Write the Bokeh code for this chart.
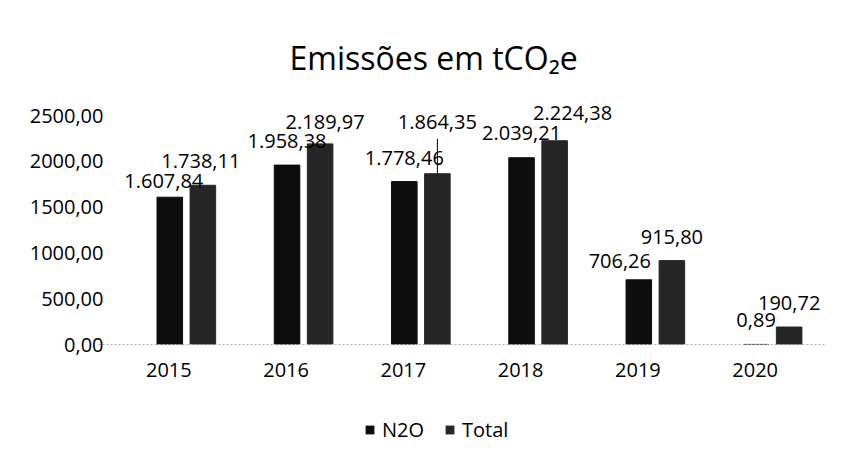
from bokeh.plotting import figure
from bokeh.layouts import column
from bokeh.models import (ColumnDataSource, FactorRange, LabelSet, Legend, LegendItem,
                          Range1d, FixedTicker, Title)
from bokeh.core.properties import value
from bokeh.transform import dodge
from bokeh.embed import file_html
from bokeh.resources import INLINE

# ---- data ----
years = ["2015", "2016", "2017", "2018", "2019", "2020"]
n2o = [1607.84, 1958.38, 1778.46, 2039.21, 706.26, 0.89]
total = [1738.11, 2189.97, 1864.35, 2224.38, 915.80, 190.72]
y_ticks = [0, 500, 1000, 1500, 2000, 2500]

# ---- styling (label nudges, px; up positive) ----
n2o_dx = [-6, 0, 0, 0, -19, 0]
n2o_up = [9, 17, 17, 18, 12, 17]
tot_dx = [-2, 5, 0, 18, 0, 0]
tot_up = [17, 15, 45, 21, 17, 17]

FONT = "Open Sans"
N2O_COLOR = "#0d0d0d"
TOT_COLOR = "#262626"


def br(v):
    s = f"{v:,.2f}"
    return s.replace(",", "X").replace(".", ",").replace("X", ".")


src = ColumnDataSource(dict(
    year=years, n2o=n2o, total=total,
    n2o_lab=[br(v) for v in n2o], tot_lab=[br(v) for v in total],
    n2o_dx=n2o_dx, n2o_up=n2o_up, tot_dx=tot_dx, tot_up=tot_up,
))

W, H1, H2 = 848, 408, 54
LEFT, RIGHT = 98, 23
TOP, BOT = 95, 64
PX_AXIS = 229            # pixel height from 0 to the top tick
frame_h = H1 - TOP - BOT
y_top = y_ticks[-1] * frame_h / PX_AXIS
per_px = y_ticks[-1] / PX_AXIS

p = figure(x_range=FactorRange(*years, range_padding=0.1, range_padding_units="absolute"),
           y_range=Range1d(0, y_top),
           width=W, height=H1, output_backend="svg", toolbar_location=None,
           min_border_left=LEFT, min_border_right=RIGHT, min_border_top=TOP,
           min_border_bottom=BOT)
p.outline_line_color = None
p.grid.visible = False
p.background_fill_color = "white"
p.border_fill_color = "white"

OFF_N = 0.008
OFF_T = 0.29
BW = 0.218

r1 = p.vbar(x=dodge("year", OFF_N, range=p.x_range), top="n2o", width=BW,
            source=src, fill_color=N2O_COLOR, line_color=N2O_COLOR)
r2 = p.vbar(x=dodge("year", OFF_T, range=p.x_range), top="total", width=BW,
            source=src, fill_color=TOT_COLOR, line_color=TOT_COLOR)

lab_kw = dict(text_font=value(FONT), text_font_size="20px", text_color="black",
              text_align="center", text_baseline="alphabetic", source=src)
p.add_layout(LabelSet(x=dodge("year", OFF_N, range=p.x_range), y="n2o", text="n2o_lab",
                      x_offset="n2o_dx", y_offset="n2o_up", **lab_kw))
p.add_layout(LabelSet(x=dodge("year", OFF_T, range=p.x_range), y="total", text="tot_lab",
                      x_offset="tot_dx", y_offset="tot_up", **lab_kw))

# leader line for labels pushed far from their bar
lead = [i for i, u in enumerate(tot_up) if u > 30]
lsrc = ColumnDataSource(dict(
    year=[years[i] for i in lead],
    y0=[total[i] for i in lead],
    y1=[total[i] + (tot_up[i] - 10) * per_px for i in lead],
))
p.segment(x0=dodge("year", OFF_T, range=p.x_range), y0="y0",
          x1=dodge("year", OFF_T, range=p.x_range), y1="y1",
          source=lsrc, line_color="black", line_width=1)

# axes
p.yaxis.ticker = FixedTicker(ticks=y_ticks)
p.yaxis.major_label_overrides = {t: f"{t:.2f}".replace(".", ",") for t in y_ticks}
p.yaxis.axis_line_color = None
p.yaxis.major_tick_line_color = None
p.yaxis.minor_tick_line_color = None
p.yaxis.major_tick_out = 0
p.yaxis.major_label_standoff = -5
p.yaxis.major_label_text_font = FONT
p.yaxis.major_label_text_font_size = "20px"
p.yaxis.major_label_text_color = "black"

p.xaxis.axis_line_color = "#b0b0b0"
p.xaxis.axis_line_dash = "2 2"
p.xaxis.major_tick_line_color = None
p.xaxis.major_tick_out = 0
p.xaxis.major_label_standoff = 18
p.xaxis.major_label_text_font = FONT
p.xaxis.major_label_text_font_size = "20px"
p.xaxis.major_label_text_color = "black"

# title
p.title = Title(text="Emissões em tCO₂e", align="left", offset=191, standoff=34,
                text_font=FONT, text_font_size="32px", text_font_style="normal",
                text_color="black")

# legend strip below the chart (its renderers are hidden; only the legend shows)
p2 = figure(width=W, height=H2, x_range=FactorRange(*years), y_range=Range1d(-2, -1),
            output_backend="svg", toolbar_location=None,
            x_axis_location=None, y_axis_location=None,
            min_border_left=LEFT, min_border_right=RIGHT, min_border_top=0,
            min_border_bottom=0)
p2.outline_line_color = None
p2.grid.visible = False
p2.background_fill_color = "white"
p2.border_fill_color = "white"
g1 = p2.vbar(x="year", top="n2o", width=BW, source=src,
             fill_color=N2O_COLOR, line_color=None, visible=False)
g2 = p2.vbar(x="year", top="total", width=BW, source=src,
             fill_color=TOT_COLOR, line_color=None, visible=False)
legend = Legend(items=[LegendItem(label="N2O", renderers=[g1]),
                       LegendItem(label="Total", renderers=[g2])],
                orientation="horizontal", location=(266, 19),
                border_line_color=None, background_fill_alpha=0,
                inactive_fill_alpha=0,
                label_text_font=FONT, label_text_font_size="20px",
                label_text_color="black",
                glyph_width=11, glyph_height=11, label_standoff=7, spacing=20,
                padding=0, margin=0)
p2.add_layout(legend, "center")

open("out.html", "w").write(file_html(column(p, p2, spacing=0), INLINE))
